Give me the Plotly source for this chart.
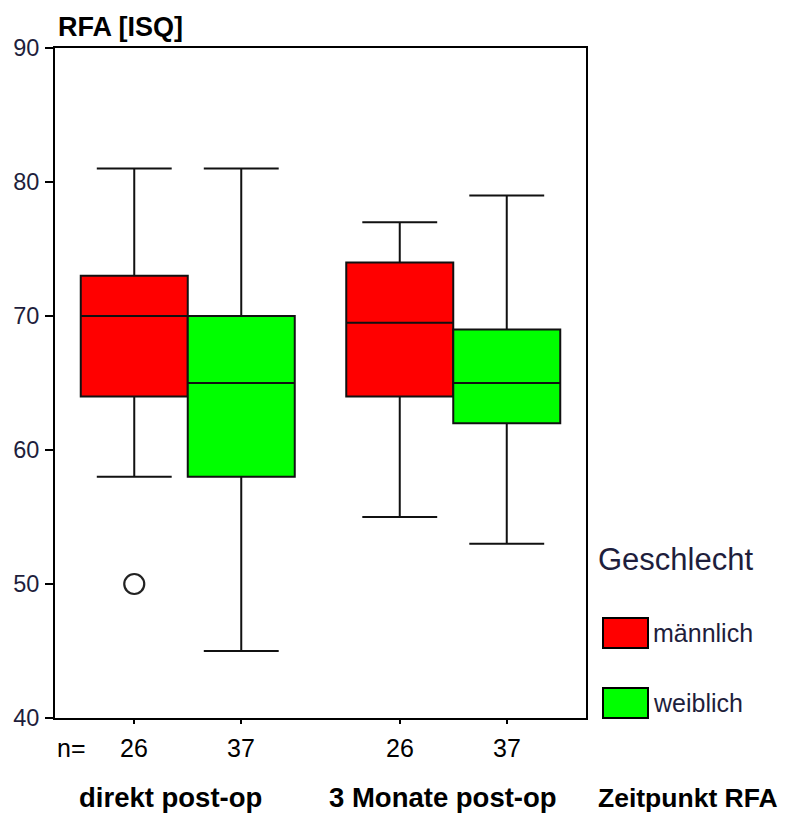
import plotly.graph_objects as go

# Messzeitpunkte und Gruppen
zeitpunkte = ["direkt post-op", "3 Monate post-op"]
geschlechter = ["männlich", "weiblich"]
farben = {"männlich": "#FF0000", "weiblich": "#00FF00"}

# Kennwerte der Boxplots (RFA in ISQ) je Zeitpunkt
stats = {
    "männlich": dict(lower=[58, 55], q1=[64, 64], median=[70, 69.5], q3=[73, 74], upper=[81, 77]),
    "weiblich": dict(lower=[45, 53], q1=[58, 62], median=[65, 65], q3=[70, 69], upper=[81, 79]),
}
fallzahlen = {"männlich": [26, 26], "weiblich": [37, 37]}

# Ausreißer: (Zeitpunkt, Geschlecht, Wert)
ausreisser = [("direkt post-op", "männlich", 50)]

Y_TICKS = [40, 50, 60, 70, 80, 90]

FONT = "Liberation Sans, Arial, sans-serif"
NAVY = "#1e1e3c"
BOXGAP = 0.194

# Plotfläche in Pixeln
W, H = 787, 814
L, R, T, B = 55, 586, 48, 718


def px(xp):
    return (xp - L) / (R - L)


def py(yp):
    return (B - yp) / (B - T)


def versatz(gruppe):
    # Mittelpunkt der Box relativ zum Kategorienzentrum bei boxmode="group"
    breite = (1 - BOXGAP) / len(geschlechter)
    i = geschlechter.index(gruppe)
    return -(1 - BOXGAP) / 2 + breite * (i + 0.5)


fig = go.Figure()

for g in geschlechter:
    s = stats[g]
    fig.add_trace(go.Box(
        x=zeitpunkte,
        q1=s["q1"], median=s["median"], q3=s["q3"],
        lowerfence=s["lower"], upperfence=s["upper"],
        name=g,
        fillcolor=farben[g],
        line=dict(color="#111111", width=2),
        whiskerwidth=0.7,
        boxpoints=False,
        showlegend=False,
        hoverinfo="skip",
    ))

# Ausreißer als offene Kreise auf der numerischen Hilfsachse
fig.add_trace(go.Scatter(
    x=[zeitpunkte.index(z) + versatz(g) for z, g, _ in ausreisser],
    y=[v for _, _, v in ausreisser],
    mode="markers",
    marker=dict(symbol="circle-open", size=20, color="#222222", line=dict(width=2.2)),
    xaxis="x2", yaxis="y",
    showlegend=False,
    hoverinfo="skip",
))

tickpos = []
annotations = []
for zi, z in enumerate(zeitpunkte):
    for g in geschlechter:
        pos = zi + versatz(g)
        tickpos.append(pos)
        annotations.append(dict(
            text=str(fallzahlen[g][zi]), xref="x2", yref="paper", x=pos, y=py(748),
            xanchor="center", yanchor="middle", showarrow=False,
            font=dict(family=FONT, size=25, color="black")))

annotations += [
    dict(text="<b>RFA [ISQ]</b>", xref="paper", yref="paper", x=px(56), y=py(27),
         xanchor="left", yanchor="middle", showarrow=False,
         font=dict(family=FONT, size=27, color="black")),
    dict(text="n=", xref="paper", yref="paper", x=px(55), y=py(748),
         xanchor="left", yanchor="middle", showarrow=False,
         font=dict(family=FONT, size=25, color="black")),
    dict(text="<b>Zeitpunkt RFA</b>", xref="paper", yref="paper", x=px(596), y=py(798),
         xanchor="left", yanchor="middle", showarrow=False,
         font=dict(family=FONT, size=26.5, color="black")),
    dict(text="Geschlecht", xref="paper", yref="paper", x=px(596), y=py(559),
         xanchor="left", yanchor="middle", showarrow=False,
         font=dict(family=FONT, size=31, color=NAVY)),
]
kategorie_shift = [-17, -10]
for zi, z in enumerate(zeitpunkte):
    annotations.append(dict(
        text=f"<b>{z}</b>", xref="x", yref="paper", x=zi, y=py(798), xshift=kategorie_shift[zi],
        xanchor="center", yanchor="middle", showarrow=False,
        font=dict(family=FONT, size=27.5, color="black")))

# Legende: Farbfelder mit Beschriftung
shapes = []
legende_y = {"männlich": (618, 648), "weiblich": (688, 718)}
for g in geschlechter:
    y0, y1 = legende_y[g]
    shapes.append(dict(type="rect", xref="paper", yref="paper",
                       x0=px(603), x1=px(648), y0=py(y1), y1=py(y0),
                       fillcolor=farben[g], line=dict(color="black", width=2)))
    annotations.append(dict(text=g, xref="paper", yref="paper", x=px(651), y=py((y0 + y1) / 2),
                            xanchor="left", yanchor="middle", showarrow=False,
                            font=dict(family=FONT, size=25, color=NAVY)))

fig.update_layout(
    width=W, height=H,
    margin=dict(l=L, r=W - R, t=T, b=H - B, pad=0),
    paper_bgcolor="white", plot_bgcolor="white",
    boxmode="group", boxgap=BOXGAP, boxgroupgap=0,
    xaxis=dict(
        type="category", range=[-0.5, 1.5],
        showline=True, mirror=True, linecolor="black", linewidth=2,
        showticklabels=False, ticks="", showgrid=False, zeroline=False,
    ),
    xaxis2=dict(
        overlaying="x", anchor="y", side="bottom", range=[-0.5, 1.5],
        tickvals=tickpos, showticklabels=False,
        ticks="outside", ticklen=5, tickwidth=2, tickcolor="black",
        showline=False, showgrid=False, zeroline=False,
    ),
    yaxis=dict(
        range=[40, 90], tickvals=Y_TICKS,
        showline=True, mirror=True, linecolor="black", linewidth=2,
        ticks="outside", ticklen=8, tickwidth=2, tickcolor="black",
        ticklabelstandoff=1,
        showgrid=False, zeroline=False,
        tickfont=dict(family=FONT, size=23.5, color=NAVY),
    ),
    annotations=annotations,
    shapes=shapes,
)

fig.write_html("out.html")
